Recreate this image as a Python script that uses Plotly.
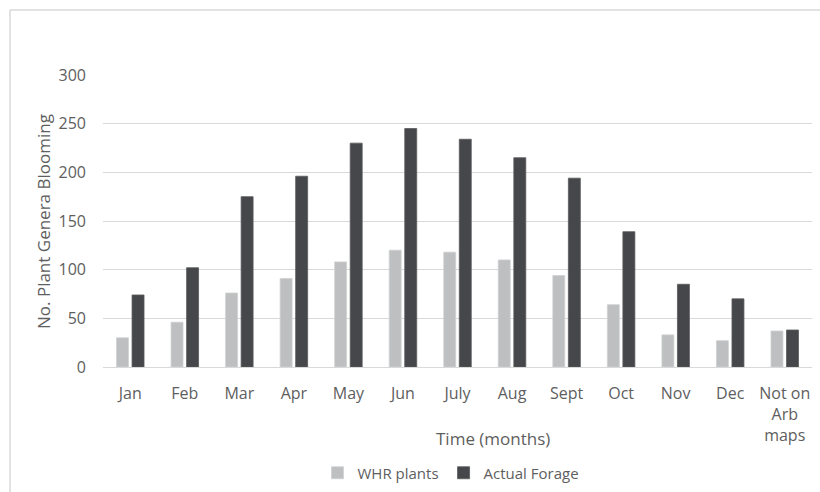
import plotly.graph_objects as go

# Blooming counts per month
months = ["Jan", "Feb", "Mar", "Apr", "May", "Jun", "July", "Aug", "Sept",
          "Oct", "Nov", "Dec", "Not on<br>Arb<br>maps"]
whr_plants = [30, 46, 76, 91, 108, 120, 118, 110, 94, 64, 33, 27, 37]
actual_forage = [74, 102, 175, 196, 230, 245, 234, 215, 194, 139, 85, 70, 38]

y_ticks = [0, 50, 100, 150, 200, 250, 300]

W, H = 820, 492
ML, MR, MT, MB = 103, 8, 75, 125
PW, PH = W - ML - MR, H - MT - MB

TEXT = "#5E5E5E"
GRID = "#D9D9D9"
FONT = "Open Sans"


def px_x(x):
    return (x - ML) / PW


def px_y(y):
    return (H - MB - y) / PH


fig = go.Figure()
fig.add_trace(go.Bar(
    x=months, y=whr_plants, name="WHR plants",
    marker=dict(color="#BEBFC1", line=dict(color="#CFD0D2", width=0.8)),
))
fig.add_trace(go.Bar(
    x=months, y=actual_forage, name="Actual Forage",
    marker=dict(color="#46474A", line=dict(color="#5A5B5E", width=0.8)),
))

fig.update_layout(
    width=W, height=H,
    margin=dict(l=ML, r=MR, t=MT, b=MB, pad=0, autoexpand=False),
    paper_bgcolor="white", plot_bgcolor="white",
    barmode="group", bargap=0.43, bargroupgap=0.23,
    font=dict(family=FONT, size=16, color=TEXT),
    showlegend=True,
    legend=dict(orientation="h", x=px_x(451), y=px_y(473), xanchor="center",
                yanchor="middle", font=dict(size=15, color=TEXT),
                itemwidth=30, tracegroupgap=0),
    xaxis=dict(showgrid=False, showline=True, linecolor=GRID, linewidth=1,
               ticks="", tickfont=dict(size=16, color=TEXT),
               ticklabelstandoff=12, automargin=False),
    yaxis=dict(range=[0, 300], tickvals=y_ticks, showgrid=True,
               gridcolor=GRID, gridwidth=1, zeroline=False, showline=False,
               ticks="", tickfont=dict(size=16, color=TEXT),
               ticklabelstandoff=16, automargin=False),
    annotations=[
        dict(text="No. Plant Genera Blooming", xref="paper", yref="paper",
             x=px_x(43), y=px_y(222), textangle=-90, showarrow=False,
             font=dict(size=17, color=TEXT), xanchor="center", yanchor="middle"),
        dict(text="Time (months)", xref="paper", yref="paper",
             x=px_x(493), y=px_y(438), showarrow=False,
             font=dict(size=17, color=TEXT), xanchor="center", yanchor="middle"),
    ],
    shapes=[
        dict(type="line", xref="paper", yref="paper",
             x0=px_x(10), x1=px_x(10), y0=px_y(10), y1=px_y(H),
             line=dict(color=GRID, width=1.5)),
        dict(type="line", xref="paper", yref="paper",
             x0=px_x(10), x1=px_x(W), y0=px_y(10), y1=px_y(10),
             line=dict(color=GRID, width=1.5)),
    ],
)

fig.write_html("out.html")
